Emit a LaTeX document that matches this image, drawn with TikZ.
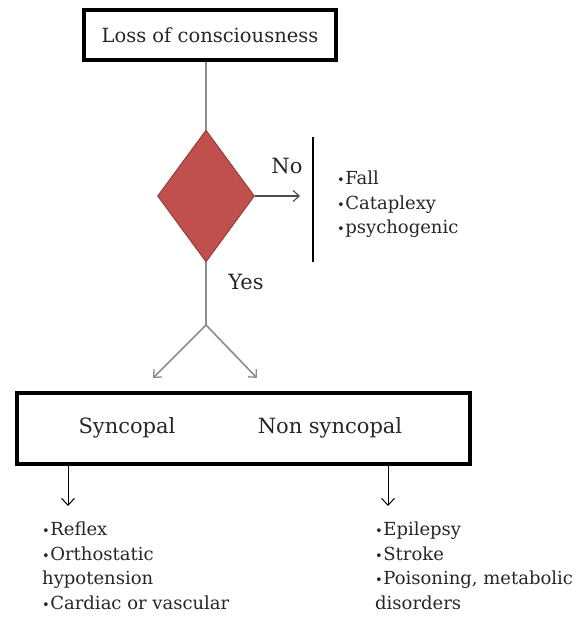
\documentclass[tikz,border=0pt]{standalone}
\usepackage{fontspec}
\setmainfont{DejaVu Serif}
\usetikzlibrary{shapes.geometric,arrows.meta}
\definecolor{diafill}{HTML}{C0504D}
\definecolor{diaedge}{HTML}{8C3836}
\definecolor{flowgray}{HTML}{8C8C8C}
% small bullet set close to the word
\newcommand{\dotitem}{{\fontsize{13}{13}\selectfont\textbullet}\hspace{0.5pt}}
\tikzset{
  every node/.style={text=black!85},
  titlebox/.style={draw=black, line width=4pt, inner sep=0pt},
  titletext/.style={font=\fontsize{19.5}{23}\selectfont},
  labeltext/.style={font=\fontsize{21}{24}\selectfont},
  decision/.style={diamond, fill=diafill, draw=diaedge, line width=0.8pt,
    aspect=0.735, minimum width=97pt, minimum height=132pt, inner sep=0pt},
  grayline/.style={draw=flowgray, line width=1.6pt},
  grayarrow/.style={grayline, -{Straight Barb[length=6pt,width=11pt,line width=1.3pt]}},
  darkarrow/.style={draw=black!70, line width=1.1pt, -{Straight Barb[length=6pt,width=11pt,line width=1.1pt]}},
  blackarrow/.style={draw=black, line width=1pt, -{Straight Barb[length=7pt,width=13pt,line width=1pt]}},
  listtext/.style={align=left, anchor=north west, inner sep=0pt,
    font=\fontsize{18}{24.5}\selectfont}
}
\begin{document}
\begin{tikzpicture}[x=1pt, y=-1pt]
  \useasboundingbox (0,0) rectangle (587,623);
  % boxes
  \node[titlebox, titletext, minimum width=252pt, minimum height=50pt] (loc) at (210,35) {Loss of consciousness};
  \node[decision] (dec) at (206,196) {};
  \node[titlebox, minimum width=453pt, minimum height=71pt] (kind) at (243,428) {};
  \node[labeltext] (sync) at (127,428) {Syncopal};
  \node[labeltext] (nonsync) at (330,428) {Non syncopal};
  % labels
  \node[labeltext] (no) at (287,166) {No};
  \node[labeltext] (yes) at (246,282) {Yes};
  % "No" branch
  \coordinate (noend) at (300,196);
  \coordinate (bartop) at (313,137);
  \coordinate (barbot) at (313,262);
  \node[listtext] (nolist) at (337,171) {\dotitem Fall\\\dotitem Cataplexy\\\dotitem psychogenic};
  % "Yes" branch
  \coordinate (fork) at (206,325);
  \coordinate (lefttip) at (153,378);
  \coordinate (righttip) at (257,378);
  % lists below
  \coordinate (lstart) at (68,465);
  \coordinate (ltip) at (68,506);
  \coordinate (rstart) at (388,465);
  \coordinate (rtip) at (388,506);
  \node[listtext] (leftlist) at (42,522) {\dotitem Reflex\\\dotitem Orthostatic\\hypotension\\\dotitem Cardiac or vascular};
  \node[listtext] (rightlist) at (375,522) {\dotitem Epilepsy\\\dotitem Stroke\\\dotitem Poisoning, metabolic\\disorders};
  % connectors
  \draw[grayline] (dec.north |- loc.south) -- (dec.north);
  \draw[darkarrow] (dec.east) -- (noend);
  \draw[black, line width=1.2pt] (bartop) -- (barbot);
  \draw[grayline] (dec.south) -- (fork);
  \draw[grayarrow] (fork) -- (lefttip);
  \draw[grayarrow] (fork) -- (righttip);
  \draw[blackarrow] (lstart) -- (ltip);
  \draw[blackarrow] (rstart) -- (rtip);
\end{tikzpicture}
\end{document}
